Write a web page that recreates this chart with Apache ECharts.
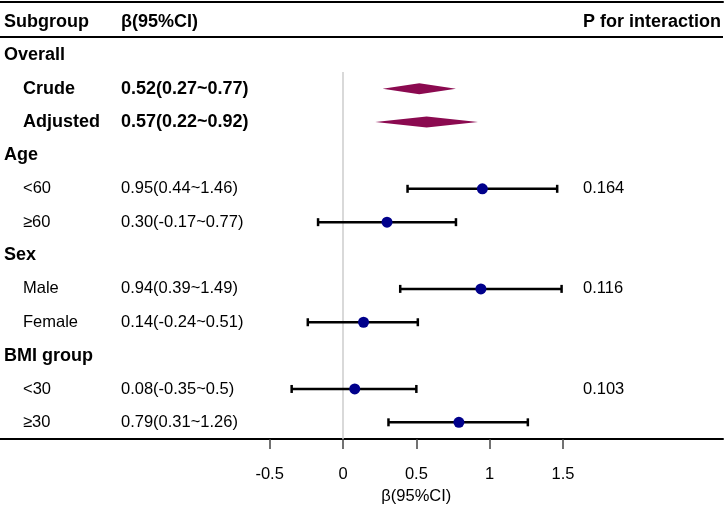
<!DOCTYPE html>
<html>
<head>
<meta charset="utf-8">
<script src="https://cdn.jsdelivr.net/npm/echarts@6/dist/echarts.min.js"></script>
<style>html,body{margin:0;padding:0;background:#fff}#c{width:727px;height:507px}</style>
</head>
<body>
<div id="c"></div>
<script>
// ---- data ----
const rowLabels = ["Overall","Crude","Adjusted","Age","<60","\u226560","Sex","Male","Female","BMI group","<30","\u226530"];
const rowLevel  = ["group","overall","overall","group","sub","sub","group","sub","sub","group","sub","sub"];
const est  = [null,0.52,0.57,null,0.95,0.30,null,0.94,0.14,null,0.08,0.79];
const low  = [null,0.27,0.22,null,0.44,-0.17,null,0.39,-0.24,null,-0.35,0.31];
const high = [null,0.77,0.92,null,1.46,0.77,null,1.49,0.51,null,0.5,1.26];
const ciText = ["","0.52(0.27~0.77)","0.57(0.22~0.92)","","0.95(0.44~1.46)","0.30(-0.17~0.77)","","0.94(0.39~1.49)","0.14(-0.24~0.51)","","0.08(-0.35~0.5)","0.79(0.31~1.26)"];
const pText  = ["","","","","0.164","","","0.116","","","0.103",""];
const headers = ["Subgroup","\u03b2(95%CI)","P for interaction"];
const tickValues = [-0.5,0,0.5,1,1.5];
const axisTitle = "\u03b2(95%CI)";

// ---- layout ----
const ZERO_PX = 343, UNIT_PX = 146.7, PLOT_W = 723;
const XMIN = -ZERO_PX / UNIT_PX, XMAX = (PLOT_W - ZERO_PX) / UNIT_PX;
const xv = px => XMIN + px / UNIT_PX;
const FONT = "'Liberation Sans', Arial, sans-serif";
const REG = 16.5, BOLD = 18;

const chart = echarts.init(document.getElementById('c'), null, {renderer: 'canvas'});

function textItem(px, row, text, bold) {
  return {
    value: [xv(px), row],
    label: {formatter: text, fontWeight: bold ? 'bold' : 'normal', fontSize: bold ? BOLD : REG}
  };
}

const leftTexts = [textItem(4, -1, headers[0], true)];
const ciTexts = [textItem(121, -1, headers[1], true)];
const pTexts = [textItem(583, -1, headers[2], true)];
rowLabels.forEach((l, i) => {
  const lv = rowLevel[i];
  leftTexts.push(textItem(lv === 'group' ? 4 : 23, i, l, lv !== 'sub'));
  if (ciText[i]) ciTexts.push(textItem(121, i, ciText[i], lv === 'overall'));
  if (pText[i]) pTexts.push(textItem(583, i, pText[i], false));
});

const textSeriesBase = {
  type: 'scatter', symbolSize: 0, silent: true, z: 10,
  itemStyle: {opacity: 1},
  label: {show: true, position: 'right', distance: 0, color: '#000', opacity: 1, fontFamily: FONT, verticalAlign: 'middle'}
};

const diamondData = [], barData = [], dotData = [];
rowLabels.forEach((l, i) => {
  if (est[i] === null) return;
  if (rowLevel[i] === 'overall') diamondData.push([i, low[i], high[i], est[i]]);
  else { barData.push([i, low[i], high[i], est[i]]); dotData.push([est[i], i]); }
});

const option = {
  animation: false,
  grid: {left: 0, right: 4, top: 2, bottom: 68, containLabel: false},
  xAxis: [{
    type: 'value', position: 'bottom', min: XMIN, max: XMAX,
    axisLine: {show: true, onZero: false, lineStyle: {color: '#000', width: 2}},
    axisTick: {show: true, customValues: tickValues, length: 10, lineStyle: {color: '#444', width: 1.5}},
    axisLabel: {
      show: true, customValues: tickValues, margin: 24, color: '#000', fontFamily: FONT, fontSize: REG, lineHeight: 22,
      formatter: v => (Math.abs(v - 0.5) < 1e-9 ? '0.5\n' + axisTitle : String(v))
    },
    splitLine: {show: false}
  }, {
    type: 'value', position: 'top', min: XMIN, max: XMAX,
    axisLine: {show: true, onZero: false, lineStyle: {color: '#000', width: 2}},
    axisTick: {show: false}, axisLabel: {show: false}, splitLine: {show: false}
  }],
  yAxis: {type: 'value', inverse: true, min: -1.6, max: 11.5, show: false, splitLine: {show: false}},
  series: [
    {
      type: 'line', data: [[0, 0.5], [0, 11.5]], symbol: 'none', silent: true, z: 1,
      lineStyle: {color: '#cccccc', width: 1.5},
      markLine: {silent: true, symbol: 'none', label: {show: false},
        lineStyle: {color: '#000', width: 2, type: 'solid'}, data: [{yAxis: -0.55}]}
    },
    {
      type: 'custom', z: 3, silent: true, data: barData, encode: {x: [1, 2], y: 0},
      renderItem: (params, api) => {
        const r = api.value(0);
        const a = api.coord([api.value(1), r]), b = api.coord([api.value(2), r]);
        const st = {stroke: '#000', lineWidth: 2.5};
        return {type: 'group', children: [
          {type: 'line', shape: {x1: a[0], y1: a[1], x2: b[0], y2: b[1]}, style: st},
          {type: 'line', shape: {x1: a[0], y1: a[1] - 4, x2: a[0], y2: a[1] + 4}, style: st},
          {type: 'line', shape: {x1: b[0], y1: b[1] - 4, x2: b[0], y2: b[1] + 4}, style: st}
        ]};
      }
    },
    {type: 'scatter', z: 4, silent: true, data: dotData, symbol: 'circle', symbolSize: 11, itemStyle: {color: '#00008B', opacity: 1}},
    {
      type: 'custom', z: 3, silent: true, data: diamondData, encode: {x: [1, 2, 3], y: 0},
      renderItem: (params, api) => {
        const r = api.value(0);
        const a = api.coord([api.value(1), r]), b = api.coord([api.value(2), r]), m = api.coord([api.value(3), r]);
        return {type: 'polygon', shape: {points: [[a[0], a[1]], [m[0], m[1] - 5.5], [b[0], b[1]], [m[0], m[1] + 5.5]]},
          style: {fill: '#8B0A50'}};
      }
    },
    Object.assign({}, textSeriesBase, {data: leftTexts}),
    Object.assign({}, textSeriesBase, {data: ciTexts}),
    Object.assign({}, textSeriesBase, {data: pTexts})
  ]
};
chart.setOption(option);
</script>
</body>
</html>
